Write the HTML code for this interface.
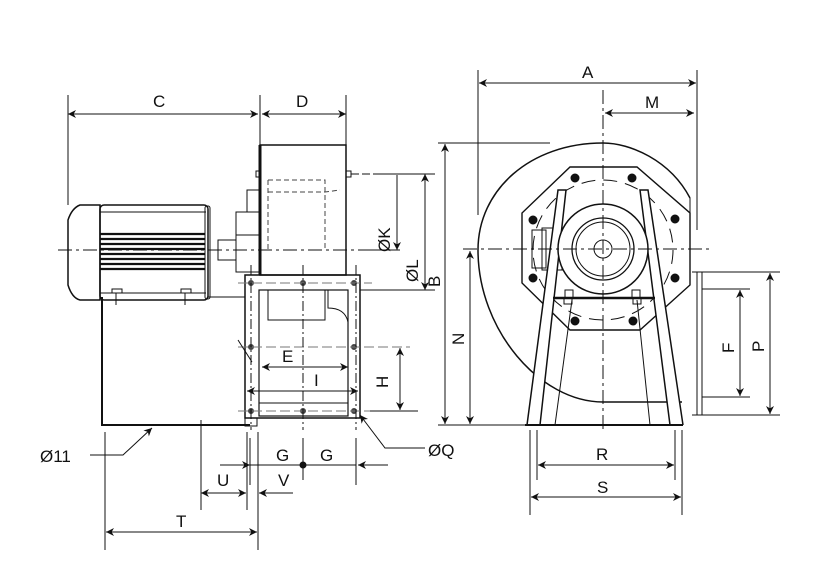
<!DOCTYPE html>
<html><head><meta charset="utf-8"><style>
html,body{margin:0;padding:0;background:#fff;}
svg{display:block;}
text{font-family:"Liberation Sans",sans-serif;font-size:17px;fill:#111;}
</style></head><body>
<svg width="818" height="577" viewBox="0 0 818 577" xmlns="http://www.w3.org/2000/svg">
<defs>
<marker id="a" viewBox="0 0 10 10" refX="10" refY="5" markerWidth="10" markerHeight="8" orient="auto-start-reverse" markerUnits="userSpaceOnUse"><path d="M0,0 L10,5 L0,10 L3,5 Z" fill="#111"/></marker>
</defs>
<g stroke="#111" fill="none" stroke-width="1">
<!-- ===== LEFT VIEW ===== -->
<!-- center line -->
<line x1="58" y1="250" x2="372" y2="250" stroke-dasharray="14,4,3,4"/>
<!-- motor end cap -->
<path d="M100,205 L80,205 Q72,208 68,220 L68,285 Q72,298 80,300 L100,300 Z" stroke-width="1.5"/>
<rect x="100" y="205" width="108" height="95" rx="4" stroke-width="1.5"/>
<line x1="100" y1="212" x2="206" y2="212"/>
<line x1="100" y1="293" x2="206" y2="293"/>
<g stroke-width="2.2">
<line x1="100" y1="234" x2="205" y2="234"/><line x1="100" y1="239" x2="205" y2="239"/>
<line x1="100" y1="244" x2="205" y2="244"/><line x1="100" y1="249" x2="205" y2="249"/>
<line x1="100" y1="254" x2="205" y2="254"/><line x1="100" y1="259" x2="205" y2="259"/>
<line x1="100" y1="264" x2="205" y2="264"/><line x1="100" y1="269" x2="205" y2="269"/>
</g>
<rect x="205" y="206" width="5" height="93" rx="2"/>
<rect x="218" y="240" width="18" height="20"/>
<rect x="236" y="212" width="24" height="60"/>
<line x1="236" y1="235" x2="260" y2="235"/>
<path d="M247,212 L247,190 L259,190"/>
<line x1="208" y1="297" x2="245" y2="297"/>
<!-- housing -->
<rect x="260" y="145" width="86" height="130" stroke-width="1.5"/>
<line x1="260" y1="145" x2="260" y2="275" stroke-width="3"/>
<rect x="256" y="171" width="5" height="6"/><rect x="346" y="171" width="5" height="6"/>
<path d="M268,180 L325,180 L325,250 M268,180 L268,250 M268,192 L325,192 L340,190" stroke-dasharray="5,3" stroke="#444"/>
<line x1="351" y1="174" x2="380" y2="174" stroke-dasharray="8,3"/>
<!-- base -->
<path d="M102,297 L102,425 L250,425" stroke-width="2"/>
<line x1="116" y1="290" x2="116" y2="305"/><line x1="185" y1="290" x2="185" y2="305"/>
<path d="M112,293 h10 v-4 h-10z M181,293 h10 v-4 h-10z" fill="#fff"/>
<!-- flange -->
<rect x="245" y="275" width="115" height="143" stroke-width="1.5"/>
<rect x="259" y="290" width="89" height="126" stroke-width="1.2"/>
<rect x="268" y="290" width="57" height="30"/>
<path d="M328,290 L328,308 Q345,308 348,322"/>
<line x1="259" y1="403" x2="348" y2="403"/>
<rect x="245" y="418" width="12" height="8"/>
<g fill="#444" stroke="#444">
<circle cx="251" cy="283" r="2.5"/><circle cx="303" cy="283" r="2.5"/><circle cx="354" cy="283" r="2.5"/>
<circle cx="251" cy="347" r="2.5"/><circle cx="354" cy="347" r="2.5"/>
<circle cx="251" cy="411" r="2.5"/><circle cx="303" cy="411" r="2.5"/><circle cx="354" cy="411" r="2.5"/>
</g>
<g stroke="#777" stroke-dasharray="10,4">
<line x1="238" y1="283" x2="372" y2="283"/>
<line x1="238" y1="347" x2="410" y2="347"/>
<line x1="238" y1="411" x2="380" y2="411"/>
</g>
<line x1="303" y1="265" x2="303" y2="430" stroke-dasharray="10,3,2,3"/>
<line x1="251" y1="265" x2="251" y2="430" stroke-dasharray="10,3,2,3"/>
<line x1="356" y1="265" x2="356" y2="430" stroke-dasharray="10,3,2,3"/>
<line x1="238" y1="340" x2="252" y2="362"/>
<!-- E, I, H -->
<line x1="262" y1="367" x2="348" y2="367" marker-start="url(#a)" marker-end="url(#a)"/>
<line x1="247" y1="391" x2="358" y2="391" marker-start="url(#a)" marker-end="url(#a)"/>
<line x1="400" y1="348" x2="400" y2="410" marker-start="url(#a)" marker-end="url(#a)"/>
<line x1="370" y1="411" x2="418" y2="411"/>
<!-- ØK, ØL -->
<line x1="397" y1="175" x2="397" y2="250" marker-end="url(#a)"/>
<line x1="425" y1="174" x2="425" y2="290" marker-start="url(#a)" marker-end="url(#a)"/>
<line x1="380" y1="174" x2="435" y2="174"/>
<line x1="372" y1="250" x2="400" y2="250"/>
<line x1="360" y1="290" x2="435" y2="290"/>
<!-- C, D -->
<line x1="68" y1="95" x2="68" y2="205"/>
<line x1="260" y1="95" x2="260" y2="145"/>
<line x1="346" y1="95" x2="346" y2="145"/>
<line x1="68" y1="114" x2="258" y2="114" marker-start="url(#a)" marker-end="url(#a)"/>
<line x1="262" y1="114" x2="346" y2="114" marker-start="url(#a)" marker-end="url(#a)"/>
<!-- bottom dims -->
<line x1="105" y1="432" x2="105" y2="550"/>
<line x1="201" y1="420" x2="201" y2="510"/>
<line x1="247" y1="432" x2="247" y2="510"/>
<line x1="250" y1="438" x2="250" y2="485"/>
<line x1="258" y1="432" x2="258" y2="550"/>
<line x1="356" y1="438" x2="356" y2="485"/>
<line x1="303" y1="438" x2="303" y2="480"/>
<line x1="220" y1="465" x2="250" y2="465" marker-end="url(#a)"/>
<line x1="250" y1="465" x2="356" y2="465"/>
<line x1="388" y1="465" x2="358" y2="465" marker-end="url(#a)"/>
<circle cx="303" cy="465" r="3" fill="#111"/>
<line x1="201" y1="493" x2="246" y2="493" marker-start="url(#a)" marker-end="url(#a)"/>
<line x1="293" y1="493" x2="259" y2="493" marker-end="url(#a)"/>
<line x1="106" y1="532" x2="257" y2="532" marker-start="url(#a)" marker-end="url(#a)"/>
<path d="M90,455 L123,455 L152,428" marker-end="url(#a)"/>
<path d="M425,448 L385,448 L360,415" marker-end="url(#a)"/>
<!-- ===== RIGHT VIEW ===== -->
<!-- volute -->
<path d="M690,198 C670,160 630,143 603,143 C530,143 478,190 478,250 C478,330 540,402 603,402 L682,402" stroke-width="1.5"/>
<line x1="690" y1="198" x2="690" y2="270"/>
<!-- octagon -->
<path d="M570,167 L637,167 L690,213 L690,285 L640,330 L570,330 L522,283 L522,213 Z" stroke-width="1.4"/>
<circle cx="603" cy="250" r="70" stroke-dasharray="14,8"/>
<g fill="#111">
<circle cx="575" cy="178" r="4"/><circle cx="632" cy="178" r="4"/>
<circle cx="533" cy="220" r="4"/><circle cx="675" cy="219" r="4"/>
<circle cx="533" cy="278" r="4"/><circle cx="675" cy="278" r="4"/>
<circle cx="575" cy="321" r="4"/><circle cx="633" cy="321" r="4"/>
</g>
<rect x="532" y="230" width="14" height="38"/><rect x="542" y="228" width="20" height="42"/>
<!-- legs -->
<path d="M527,425 L558,190 L566,190 L540,425" stroke-width="1.5" fill="#fff"/>
<path d="M683,425 L648,190 L640,190 L670,425" stroke-width="1.5" fill="#fff"/>
<line x1="555" y1="425" x2="572" y2="300"/>
<line x1="650" y1="425" x2="637" y2="300"/>
<line x1="553" y1="298" x2="655" y2="298" stroke-width="2.5"/>
<line x1="525" y1="425" x2="683" y2="425" stroke-width="2"/>
<!-- motor circle -->
<circle cx="603" cy="249" r="45" fill="#fff" stroke-width="1.5"/>
<circle cx="603" cy="249" r="31" stroke-width="1.3"/>
<circle cx="603" cy="249" r="27"/>
<circle cx="603" cy="249" r="9"/>
<path d="M565,298 v-8 h8 v8 M564,298 v6 h8 v-6 M632,298 v-8 h8 v8 M633,298 v6 h8 v-6"/>
<!-- centerlines -->
<line x1="463" y1="249" x2="712" y2="249" stroke-dasharray="14,4,3,4"/>
<line x1="603" y1="90" x2="603" y2="430" stroke-dasharray="14,4,3,4"/>
<!-- outlet flange -->
<rect x="697" y="272" width="5" height="143"/>
<line x1="692" y1="272" x2="780" y2="272"/>
<line x1="692" y1="415" x2="780" y2="415"/>
<line x1="702" y1="289" x2="750" y2="289"/>
<line x1="702" y1="397" x2="750" y2="397"/>
<line x1="740" y1="290" x2="740" y2="396" marker-start="url(#a)" marker-end="url(#a)"/>
<line x1="770" y1="273" x2="770" y2="414" marker-start="url(#a)" marker-end="url(#a)"/>
<!-- A, M -->
<line x1="478" y1="70" x2="478" y2="215"/>
<line x1="697" y1="70" x2="697" y2="230"/>
<line x1="479" y1="83" x2="696" y2="83" marker-start="url(#a)" marker-end="url(#a)"/>
<line x1="605" y1="113" x2="694" y2="113" marker-start="url(#a)" marker-end="url(#a)"/>
<!-- B, N -->
<line x1="438" y1="143" x2="550" y2="143"/>
<line x1="438" y1="425" x2="525" y2="425"/>
<line x1="445" y1="144" x2="445" y2="424" marker-start="url(#a)" marker-end="url(#a)"/>
<line x1="470" y1="251" x2="470" y2="424" marker-start="url(#a)" marker-end="url(#a)"/>
<!-- R, S -->
<line x1="537" y1="430" x2="537" y2="480"/><line x1="675" y1="430" x2="675" y2="480"/>
<line x1="530" y1="430" x2="530" y2="515"/><line x1="682" y1="430" x2="682" y2="515"/>
<line x1="538" y1="465" x2="674" y2="465" marker-start="url(#a)" marker-end="url(#a)"/>
<line x1="531" y1="497" x2="681" y2="497" marker-start="url(#a)" marker-end="url(#a)"/>
</g>
<!-- labels -->
<text x="153" y="107">C</text>
<text x="296" y="107">D</text>
<text x="282" y="362">E</text>
<text x="314" y="386">I</text>
<text x="276" y="461">G</text>
<text x="320" y="461">G</text>
<text x="217" y="486">U</text>
<text x="278" y="486">V</text>
<text x="176" y="527">T</text>
<text x="40" y="462">Ø11</text>
<text x="428" y="456">ØQ</text>
<text x="582" y="78">A</text>
<text x="645" y="108">M</text>
<text x="596" y="460">R</text>
<text x="597" y="493">S</text>
<text transform="translate(388,388) rotate(-90)">H</text>
<text transform="translate(390,252) rotate(-90)">ØK</text>
<text transform="translate(418,282) rotate(-90)">ØL</text>
<text transform="translate(440,287) rotate(-90)">B</text>
<text transform="translate(464,345) rotate(-90)">N</text>
<text transform="translate(734,353) rotate(-90)">F</text>
<text transform="translate(764,352) rotate(-90)">P</text>
</svg>
</body></html>
